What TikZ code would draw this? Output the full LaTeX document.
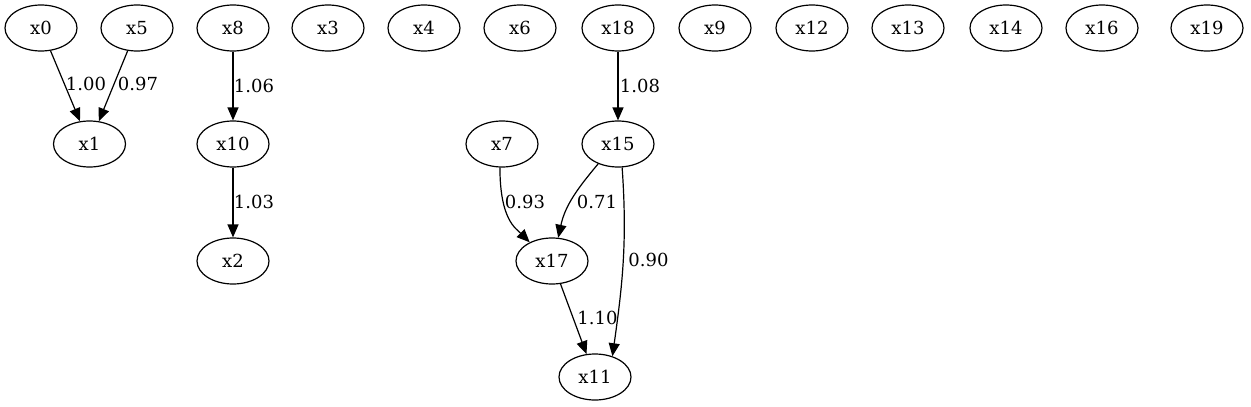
\documentclass[tikz,border=0pt]{standalone}
\usepackage{fontspec}
\setmainfont{DejaVu Serif}
\usetikzlibrary{shapes.geometric,arrows.meta}
\begin{document}
\begin{tikzpicture}[x=1pt,y=-1pt,
  var/.style={draw, ellipse, line width=1.2pt, inner sep=0pt,
    minimum width=72pt, minimum height=46pt, font=\fontsize{18}{20}\selectfont},
  lbl/.style={inner sep=0pt, font=\fontsize{18}{20}\selectfont},
  edge/.style={line width=1.2pt, -{Triangle[length=13pt,width=11pt]}}]
\useasboundingbox (0,0) rectangle (1251,407);
% first rank
\node[var] (x0) at (41,28) {x0};
\node[var] (x5) at (137,28) {x5};
\node[var] (x8) at (233,28) {x8};
\node[var] (x3) at (328,28) {x3};
\node[var] (x4) at (424,28) {x4};
\node[var] (x6) at (520,28) {x6};
\node[var] (x18) at (618,28) {x18};
\node[var] (x9) at (715,28) {x9};
\node[var] (x12) at (812,28) {x12};
\node[var] (x13) at (908,28) {x13};
\node[var] (x14) at (1006,28) {x14};
\node[var] (x16) at (1102,28) {x16};
\node[var] (x19) at (1207,28) {x19};
% lower ranks
\node[var] (x1) at (89.5,144) {x1};
\node[var] (x10) at (233,144) {x10};
\node[var] (x7) at (502,144) {x7};
\node[var] (x15) at (618,144) {x15};
\node[var] (x2) at (233,261) {x2};
\node[var] (x17) at (552,261) {x17};
\node[var] (x11) at (595,377) {x11};
% edges
\draw[edge] (x0) -- (x1);
\draw[edge] (x5) -- (x1);
\draw[edge] (x8) -- (x10);
\draw[edge] (x10) -- (x2);
\draw[edge] (x18) -- (x15);
\draw[edge] (x7.-95) .. controls +(0,52) and +(-14,-14) .. (x17.140);
\draw[edge] (x15.-135) to[out=-130,in=78] (x17.75);
\draw[edge] (x15.-80) to[out=-86,in=82] (x11.50);
\draw[edge] (x17) -- (x11);
% weights
\node[lbl] (w0) at (86,84) {1.00};
\node[lbl] (w5) at (138,84) {0.97};
\node[lbl] (w8) at (254,86) {1.06};
\node[lbl] (w10) at (254,202) {1.03};
\node[lbl] (w18) at (640,86) {1.08};
\node[lbl] (w7) at (525,202) {0.93};
\node[lbl] (w15a) at (597,202) {0.71};
\node[lbl] (w15b) at (648.5,260) {0.90};
\node[lbl] (w17) at (597.5,318) {1.10};
\end{tikzpicture}
\end{document}
